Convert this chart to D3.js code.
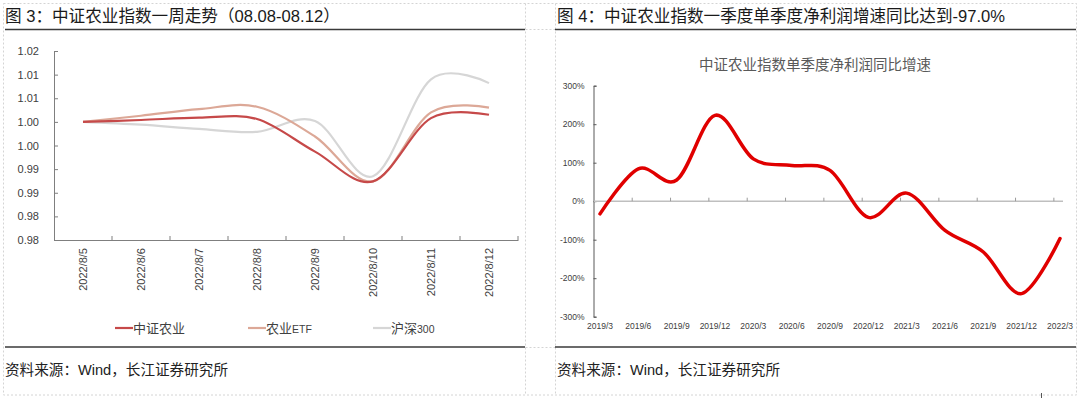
<!DOCTYPE html>
<html><head><meta charset="utf-8">
<script src="https://cdn.jsdelivr.net/npm/d3@7"></script>
<style>body{margin:0;background:#fff}svg{display:block}</style>
</head><body>
<svg id="c" width="1080" height="398"></svg>
<script>
// ---------- data ----------
const dates = ["2022/8/5","2022/8/6","2022/8/7","2022/8/8","2022/8/9","2022/8/10","2022/8/11","2022/8/12"];
const csAgri  = [1.0000, 1.0004, 1.0009, 1.0006, 0.9937, 0.9874, 1.0008, 1.0015];
const agriETF = [1.0000, 1.0013, 1.0027, 1.0032, 0.9969, 0.9874, 1.0020, 1.0030];
const hs300   = [1.0000, 0.9994, 0.9985, 0.9979, 1.0002, 0.9885, 1.0090, 1.0082];
const yTickValues = [1.015, 1.010, 1.005, 1.000, 0.995, 0.990, 0.985, 0.980, 0.975];
const yTickLabels = ["1.02","1.01","1.01","1.00","1.00","0.99","0.99","0.98","0.98"];
const seriesNames = ["中证农业","农业ETF","沪深300"];

const quarters = ["2019/3","2019/6","2019/9","2019/12","2020/3","2020/6","2020/9","2020/12","2021/3","2021/6","2021/9","2021/12","2022/3"];
const profitGrowth = [-33, 84, 55, 223, 110, 93, 80, -42, 21, -76, -132, -240, -97];
const pctTicks = [300, 200, 100, 0, -100, -200, -300];

const FONT = "'Liberation Sans', Arial, 'Noto Sans CJK SC', sans-serif";
const svg = d3.select("#c").style("font-family", FONT);

// ---------- frame ----------
const dash = "2,2";
const frame = svg.append("g").attr("stroke", "#d4d4d4").attr("stroke-width", 1).attr("stroke-dasharray", dash).attr("fill", "none");
frame.append("rect").attr("x", 3.5).attr("y", 3.5).attr("width", 1073).attr("height", 391.5);
frame.append("line").attr("x1", 525.5).attr("x2", 525.5).attr("y1", 3.5).attr("y2", 395);
frame.append("line").attr("x1", 555.5).attr("x2", 555.5).attr("y1", 3.5).attr("y2", 395);
frame.append("line").attr("x1", 525.5).attr("x2", 555.5).attr("y1", 29.5).attr("y2", 29.5);
frame.append("line").attr("x1", 525.5).attr("x2", 555.5).attr("y1", 347.5).attr("y2", 347.5);

// titles & rules
svg.append("text").attr("x", 5).attr("y", 22).attr("font-size", 16.6).attr("fill", "#1a1a1a")
  .text("图 3：中证农业指数一周走势（08.08-08.12）");
svg.append("text").attr("x", 557).attr("y", 22).attr("font-size", 16.6).attr("fill", "#1a1a1a")
  .text("图 4：中证农业指数一季度单季度净利润增速同比达到-97.0%");
[[5,525],[555,1076]].forEach(([a,b]) => {
  svg.append("line").attr("x1", a).attr("x2", b).attr("y1", 29.5).attr("y2", 29.5).attr("stroke", "#3a3a3a").attr("stroke-width", 1.5);
  svg.append("line").attr("x1", a).attr("x2", b).attr("y1", 347).attr("y2", 347).attr("stroke", "#3a3a3a").attr("stroke-width", 1.5);
});
svg.append("text").attr("x", 5).attr("y", 375).attr("font-size", 14.6).attr("fill", "#222").text("资料来源：Wind，长江证券研究所");
svg.append("text").attr("x", 557).attr("y", 375).attr("font-size", 14.6).attr("fill", "#222").text("资料来源：Wind，长江证券研究所");
svg.append("line").attr("x1", 1041.5).attr("x2", 1041.5).attr("y1", 393).attr("y2", 398).attr("stroke", "#555");

// ---------- left chart ----------
const L = svg.append("g");
const xL = d3.scaleBand().domain(dates).range([54, 518]);
const yL = d3.scaleLinear().domain([0.975, 1.015]).range([240, 51]);
const axisColor = "#7f7f7f";

const yAxisL = d3.axisLeft(yL).tickValues(yTickValues).tickSize(-4).tickPadding(15)
  .tickFormat((d, i) => yTickLabels[i]);
const gyL = L.append("g").attr("transform", "translate(54,0)").call(yAxisL);
gyL.select(".domain").attr("stroke", axisColor);
gyL.selectAll(".tick line").attr("stroke", axisColor);
gyL.selectAll(".tick text").attr("font-size", 11).attr("fill", "#404040").attr("font-family", FONT);

const xAxisL = d3.axisBottom(xL).tickSize(0).tickFormat("");
const gxL = L.append("g").attr("transform", "translate(0,240)").call(xAxisL);
gxL.select(".domain").attr("stroke", axisColor);
// tick marks at band boundaries
const bounds = dates.map(d => xL(d)).concat([xL.range()[1]]).slice(1);
L.selectAll(".bt").data(bounds).join("line")
  .attr("x1", d => d).attr("x2", d => d).attr("y1", 236).attr("y2", 240)
  .attr("stroke", axisColor);
L.selectAll(".xl").data(dates).join("text")
  .attr("transform", d => `translate(${xL(d) + xL.bandwidth()/2 + 4},248) rotate(-90)`)
  .attr("text-anchor", "end").attr("font-size", 11).attr("fill", "#404040").text(d => d);

const colorsL = ["#c64949", "#dca897", "#d6d6d6"];
const seriesL = [csAgri, agriETF, hs300];
const lineL = d3.line().x((d, i) => xL(dates[i]) + xL.bandwidth()/2).y(d => yL(d)).curve(d3.curveCatmullRom.alpha(0));
[2,1,0].forEach(k => {
  L.append("path").datum(seriesL[k]).attr("d", lineL).attr("fill", "none")
    .attr("stroke", colorsL[k]).attr("stroke-width", 2.2).attr("stroke-linejoin", "round");
});

// legend
const legX = [115, 248, 373];
seriesNames.forEach((n, k) => {
  L.append("line").attr("x1", legX[k]).attr("x2", legX[k] + 18).attr("y1", 328).attr("y2", 328)
    .attr("stroke", colorsL[k]).attr("stroke-width", 2.2);
  const t = L.append("text").attr("x", legX[k] + 18).attr("y", 332.5).attr("font-size", 13).attr("fill", "#404040");
  const m = n.match(/^([^A-Za-z0-9]+)(.*)$/);
  t.append("tspan").text(m[1]);
  if (m[2]) t.append("tspan").attr("font-size", 10.5).text(m[2]);
});

// ---------- right chart ----------
const R = svg.append("g");
const xR = d3.scalePoint().domain(quarters).range([600, 1060]);
const yR = d3.scaleLinear().domain([-300, 300]).range([316.7, 85.7]);

R.append("text").attr("x", 815).attr("y", 70).attr("text-anchor", "middle").attr("font-size", 14.5)
  .attr("fill", "#595959").text("中证农业指数单季度净利润同比增速");

const yAxisR = d3.axisLeft(yR).tickValues(pctTicks).tickSize(-3).tickPadding(9).tickFormat(d => d + "%");
const gyR = R.append("g").attr("transform", "translate(593.5,0)").call(yAxisR);
gyR.select(".domain").attr("stroke", "#595959");
gyR.selectAll(".tick line").attr("stroke", "#595959");
gyR.selectAll(".tick text").attr("font-size", 8.5).attr("fill", "#404040").attr("font-family", FONT);

// zero line with tick marks
R.append("line").attr("x1", 594).attr("x2", 1063).attr("y1", yR(0)).attr("y2", yR(0))
  .attr("stroke", "#bfbfbf").attr("stroke-width", 1.5);
const off = xR.step() * 0.16;
R.selectAll(".zt").data(quarters.slice(1)).join("line")
  .attr("x1", d => xR(d) - off).attr("x2", d => xR(d) - off)
  .attr("y1", yR(0) - 3.5).attr("y2", yR(0)).attr("stroke", "#9a9a9a");
R.selectAll(".ql").data(quarters).join("text")
  .attr("x", d => xR(d)).attr("y", 329).attr("text-anchor", "middle").attr("font-size", 8.5)
  .attr("fill", "#404040").text(d => d);

const lineR = d3.line().x((d, i) => xR(quarters[i])).y(d => yR(d)).curve(d3.curveCatmullRom.alpha(0));
R.append("path").datum(profitGrowth).attr("d", lineR).attr("fill", "none")
  .attr("stroke", "#e00000").attr("stroke-width", 3.5).attr("stroke-linejoin", "round").attr("stroke-linecap", "round");
</script>
</body></html>
